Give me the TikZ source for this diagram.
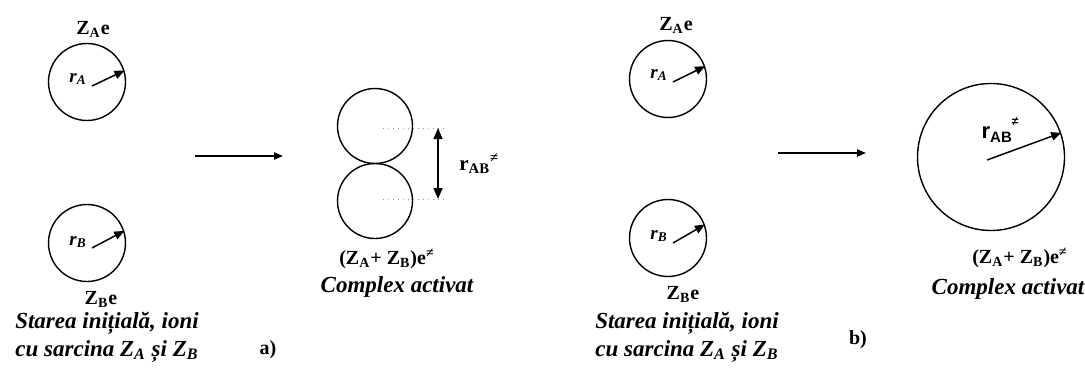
\documentclass[tikz,border=0pt]{standalone}
\usepackage{fontspec}
\setmainfont{Liberation Serif}
\newfontfamily\labelsans{Liberation Sans}
\usetikzlibrary{arrows.meta}

\tikzset{
  ion/.style={draw, circle, line width=0.7pt, inner sep=0pt},
  radiusarrow/.style={-{Triangle[length=5pt,width=4.2pt]}, line width=0.75pt},
  reactarrow/.style={-{Triangle[length=4.5pt,width=3.6pt]}, line width=0.8pt},
  distarrow/.style={{Triangle[length=5.5pt,width=4.5pt]}-{Triangle[length=5.5pt,width=4.5pt]}, line width=0.75pt},
  guide/.style={gray!80, dotted, line width=0.5pt},
  charge/.style={font=\fontsize{10}{12}\selectfont\bfseries, inner sep=0pt},
  rlabel/.style={font=\fontsize{9.5}{11}\selectfont\bfseries\itshape, inner sep=0pt},
  caption/.style={font=\fontsize{11.5}{14}\selectfont\bfseries\itshape, align=center, inner sep=0pt}
}

\begin{document}
\begin{tikzpicture}[x=0.5pt, y=-0.5pt]
  \useasboundingbox (0,0) rectangle (1085,374);
  % a) initial ions
  \node[charge] (zAa) at (93,29) {Z\textsubscript{A}e};
  \node[ion, minimum size=38.5pt] (ionAa) at (87,82) {};
  \node[rlabel] (rAa) at (78,79) {r\textsubscript{A}};
  \coordinate (rAas) at (92,86);
  \draw[radiusarrow] (rAas) -- (ionAa.17);
  \node[ion, minimum size=38.5pt] (ionBa) at (87,243) {};
  \node[rlabel] (rBa) at (78,242) {r\textsubscript{B}};
  \coordinate (rBas) at (92,248);
  \draw[radiusarrow] (rBas) -- (ionBa.18);
  \node[charge] (zBa) at (101,299) {Z\textsubscript{B}e};
  \node[caption] (starea) at (107,337) {Starea inițială, ioni\\cu sarcina Z\textsubscript{A} și Z\textsubscript{B}};
  \node[charge] (parta) at (268,350) {a)};
  % a) arrow
  \coordinate (arra1) at (195,156);
  \coordinate (arra2) at (283,156);
  \draw[reactarrow] (arra1) -- (arra2);
  % a) activated complex
  \node[ion, minimum size=37.5pt] (cxA) at (375,126) {};
  \node[ion, minimum size=37.5pt] (cxB) at (375,201) {};
  \coordinate (gA1) at (383,128);
  \coordinate (gA2) at (447,128);
  \coordinate (gB1) at (383,199);
  \coordinate (gB2) at (447,199);
  \draw[guide] (gA1) -- (gA2);
  \draw[guide] (gB1) -- (gB2);
  \coordinate (dA) at (438,128);
  \coordinate (dB) at (438,199);
  \draw[distarrow] (dA) -- (dB);
  \node[charge, anchor=west, font=\fontsize{10.5}{12}\selectfont\bfseries] (rABa) at (459,164) {r\textsubscript{AB}\textsuperscript{≠}};
  \node[charge] (sumA) at (387,259) {(Z\textsubscript{A}+ Z\textsubscript{B})e\textsuperscript{≠}};
  \node[caption] (cplxa) at (397,287) {Complex activat};

  % b) initial ions
  \node[charge] (zAb) at (676,25) {Z\textsubscript{A}e};
  \node[ion, minimum size=38.5pt] (ionAb) at (668,79) {};
  \node[rlabel] (rAb) at (659,75) {r\textsubscript{A}};
  \coordinate (rAbs) at (673,82);
  \draw[radiusarrow] (rAbs) -- (ionAb.19);
  \node[ion, minimum size=38.5pt] (ionBb) at (668,238) {};
  \node[rlabel] (rBb) at (659,236) {r\textsubscript{B}};
  \coordinate (rBbs) at (673,243);
  \draw[radiusarrow] (rBbs) -- (ionBb.20);
  \node[charge] (zBb) at (683,294) {Z\textsubscript{B}e};
  \node[caption] (stareb) at (687,337) {Starea inițială, ioni\\cu sarcina Z\textsubscript{A} și Z\textsubscript{B}};
  \node[charge] (partb) at (858,340) {b)};
  % b) arrow
  \coordinate (arrb1) at (778,153);
  \coordinate (arrb2) at (866,153);
  \draw[reactarrow] (arrb1) -- (arrb2);
  % b) activated complex
  \node[ion, minimum size=73.5pt] (cxAB) at (991,157) {};
  \coordinate (rABs) at (987,160);
  \draw[radiusarrow] (rABs) -- (cxAB.19);
  \node[font=\labelsans\bfseries, inner sep=0pt] (rABb) at (1000,130) {{\fontsize{11}{12}\selectfont r}{\fontsize{7.5}{9}\selectfont\raisebox{-0.5ex}{AB}}\raisebox{1.2ex}{\fontsize{6}{7}\selectfont ≠}};
  \node[charge] (sumB) at (1020,258) {(Z\textsubscript{A}+ Z\textsubscript{B})e\textsuperscript{≠}};
  \node[caption] (cplxb) at (1008,289) {Complex activat};
\end{tikzpicture}
\end{document}
